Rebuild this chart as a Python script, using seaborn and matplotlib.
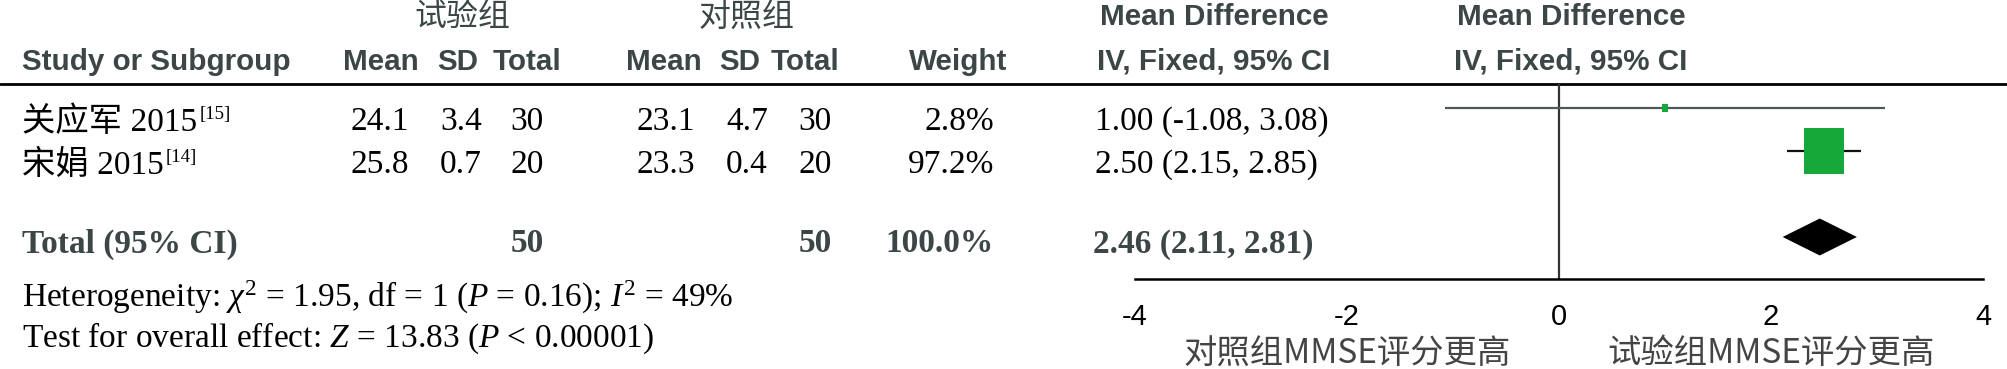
import matplotlib
matplotlib.use("Agg")
import matplotlib.pyplot as plt
import matplotlib.transforms as mtransforms
from matplotlib.lines import Line2D
from matplotlib.path import Path
import seaborn as sns
import pandas as pd

# ---------------- data ----------------
studies = ["关应军 2015", "宋娟 2015"]
refs = ["[15]", "[14]"]
exp_mean = [24.1, 25.8]
exp_sd = [3.4, 0.7]
exp_n = [30, 20]
ctl_mean = [23.1, 23.3]
ctl_sd = [4.7, 0.4]
ctl_n = [30, 20]
weights = [2.8, 97.2]
md = [1.00, 2.50]
ci_low = [-1.08, 2.15]
ci_high = [3.08, 2.85]
total_exp_n = 50
total_ctl_n = 50
total_weight = 100.0
total_md = 2.46
total_low = 2.11
total_high = 2.81
chi2, het_df, het_p, i2 = 1.95, 1, 0.16, 49
z_val = 13.83
x_ticks = [-4, -2, 0, 2, 4]
group_labels = ["试验组", "对照组"]
favours = ["对照组MMSE评分更高", "试验组MMSE评分更高"]

# ---------------- style ----------------
sns.set_theme(style="white")
plt.rcParams["font.family"] = ["Liberation Serif", "Noto Sans CJK SC", "DejaVu Sans"]
plt.rcParams["mathtext.fontset"] = "custom"
plt.rcParams["mathtext.rm"] = "Liberation Serif"
plt.rcParams["mathtext.it"] = "Liberation Serif:italic"
plt.rcParams["mathtext.bf"] = "Liberation Serif:bold"

W, H = 2008, 369
fig = plt.figure(figsize=(W / 100, H / 100), dpi=100)
fig.patch.set_facecolor("white")

# text layer in pixel coordinates (layout only)
axt = fig.add_axes([0, 0, 1, 1], zorder=0)
axt.set_xlim(0, W)
axt.set_ylim(H, 0)
axt.axis("off")

HEAD_C = "#3c4646"
head_kw = dict(family=["Liberation Sans", "DejaVu Sans"], weight="bold", size=21.3, color=HEAD_C, va="center")
cjk_head_kw = dict(family=["Noto Sans CJK SC"], size=23, color=HEAD_C, va="center", ha="center")
serif = ["Liberation Serif", "Noto Sans CJK SC"]
FS = 24
body_kw = dict(family=serif, size=FS, color="black", va="center")
bold_kw = dict(family=serif, size=FS, color=HEAD_C, weight="bold", va="center")

# header
y_h1, y_h2 = 17, 62
axt.text(462, y_h1, group_labels[0], **cjk_head_kw)
axt.text(747, y_h1, group_labels[1], **cjk_head_kw)
axt.text(22, y_h2, "Study or Subgroup", ha="left", **head_kw)
for x, s in [(381, "Mean"), (458, "SD"), (527, "Total"), (664, "Mean"), (740, "SD"), (805, "Total")]:
    axt.text(x, y_h2, s, ha="center", **head_kw)
axt.text(1007, y_h2, "Weight", ha="right", **head_kw)
axt.text(1214, y_h1, "Mean Difference", ha="center", **head_kw)
axt.text(1214, y_h2, "IV, Fixed, 95% CI", ha="center", **head_kw)
axt.text(1571, y_h1, "Mean Difference", ha="center", **head_kw)
axt.text(1571, y_h2, "IV, Fixed, 95% CI", ha="center", **head_kw)

fig.add_artist(Line2D([0, 1], [1 - 84 / H] * 2, transform=fig.transFigure, color="black", lw=2.0))

# study rows
row_text_y = [122, 165]
for i in range(len(studies)):
    y = row_text_y[i]
    t = axt.text(22, y, studies[i], ha="left", **body_kw)
    axt.annotate(refs[i], xy=(1, 1), xycoords=t, xytext=(1.5, 0), textcoords="offset points",
                 ha="left", va="top", family=serif, size=13.5, color="black")
    axt.text(380, y, f"{exp_mean[i]:.1f}", ha="center", **body_kw)
    axt.text(461, y, f"{exp_sd[i]:.1f}", ha="center", **body_kw)
    axt.text(527, y, f"{exp_n[i]}", ha="center", **body_kw)
    axt.text(666, y, f"{ctl_mean[i]:.1f}", ha="center", **body_kw)
    axt.text(747, y, f"{ctl_sd[i]:.1f}", ha="center", **body_kw)
    axt.text(815, y, f"{ctl_n[i]}", ha="center", **body_kw)
    axt.text(994, y, f"{weights[i]:.1f}%", ha="right", **body_kw)
    axt.text(1095, y, f"{md[i]:.2f} ({ci_low[i]:.2f}, {ci_high[i]:.2f})", ha="left", **body_kw)

# total row
y_tot = 244
axt.text(22, y_tot, "Total (95% CI)", ha="left", **bold_kw)
axt.text(527, y_tot, f"{total_exp_n}", ha="center", **bold_kw)
axt.text(815, y_tot, f"{total_ctl_n}", ha="center", **bold_kw)
axt.text(994, y_tot, f"{total_weight:.1f}%", ha="right", **bold_kw)
axt.text(1093, y_tot, f"{total_md:.2f} ({total_low:.2f}, {total_high:.2f})", ha="left", **bold_kw)

axt.text(22, 297, rf"Heterogeneity: $\chi^2$ = {chi2:.2f}, df = {het_df} ($P$ = {het_p:.2f}); $I^2$ = {i2}%",
         ha="left", **body_kw)
axt.text(22, 338, rf"Test for overall effect: $Z$ = {z_val:.2f} ($P$ < 0.00001)", ha="left", **body_kw)

# ---------------- forest plot ----------------
x0_px, x1_px, ytop_px, ybot_px = 1135, 1983, 84, 279
ax = fig.add_axes([x0_px / W, 1 - ybot_px / H, (x1_px - x0_px) / W, (ybot_px - ytop_px) / H], zorder=2)
ax.patch.set_alpha(0)
rows = [0, 1]
total_row = 3
ax.set_xlim(-4, 4)
ax.set_ylim(3.977, -0.558)

ax.axvline(0, color="#333333", lw=1.6, zorder=1)
ax.hlines(rows, ci_low, ci_high, colors=["#4f5a57", "#111111"], lw=1.6, zorder=2)

df = pd.DataFrame({"md": md, "row": rows, "w": weights})
rect = Path([(-0.435, -0.5), (0.435, -0.5), (0.435, 0.5), (-0.435, 0.5), (-0.435, -0.5)],
            [Path.MOVETO, Path.LINETO, Path.LINETO, Path.LINETO, Path.CLOSEPOLY])
max_side_pt = 46 * 0.72
sns.scatterplot(data=df, x="md", y="row", size="w", sizes=(0, max_side_pt ** 2), size_norm=(0, max(weights)),
                marker=rect, color="#17a83a", linewidth=0, legend=False, ax=ax, zorder=3)

dh = 0.43
ax.fill([total_low, total_md, total_high, total_md],
        [total_row, total_row - dh, total_row, total_row + dh], color="black", lw=0, zorder=3)

sns.despine(ax=ax, left=True, top=True, right=True)
ax.spines["bottom"].set_color("black")
ax.spines["bottom"].set_linewidth(1.8)
ax.set_yticks([])
ax.set_xticks(x_ticks)
ax.set_xticklabels([f"{t:g}" for t in x_ticks])
ax.tick_params(axis="x", direction="inout", length=14.4, width=1.6, color="black", pad=10,
               labelsize=21, labelcolor="black")
for lab in ax.get_xticklabels():
    lab.set_family(["Liberation Sans Narrow", "Liberation Sans"])
ax.set_xlabel("")
ax.set_ylabel("")
ax.grid(False)

bt = mtransforms.blended_transform_factory(ax.transData, axt.transData)
axt.text(-2, 354, favours[0], transform=bt, ha="center", va="center", family=["Noto Sans CJK SC"],
         size=24, color="#444444")
axt.text(2, 354, favours[1], transform=bt, ha="center", va="center", family=["Noto Sans CJK SC"],
         size=24, color="#444444")

fig.savefig("out.png", dpi=100, facecolor="white")
